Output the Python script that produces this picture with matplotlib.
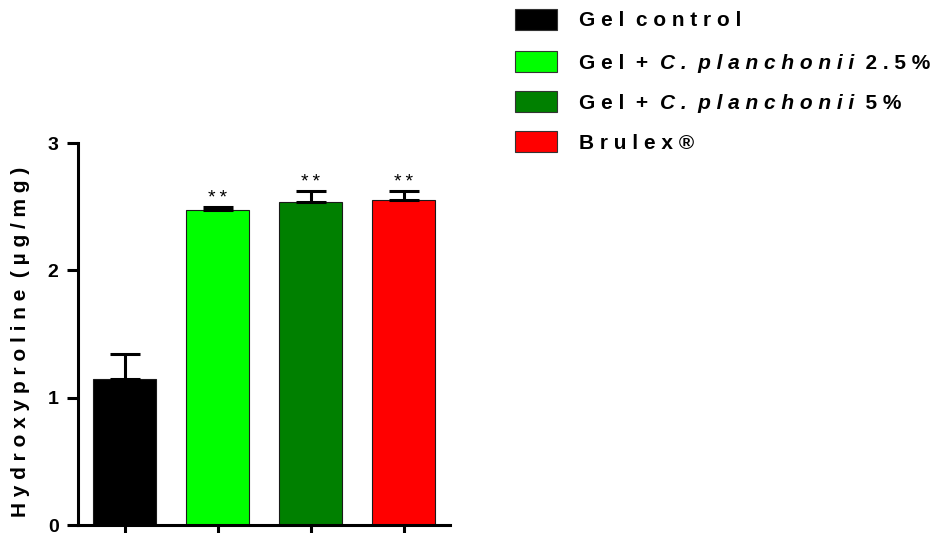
import matplotlib
matplotlib.use('Agg')
import matplotlib.pyplot as plt
from matplotlib.patches import Rectangle
import numpy as np

# ---- data ----
groups = ['Gel control', 'Gel + C. planchonii 2.5%', 'Gel + C. planchonii 5%', 'Brulex®']
means = [1.15, 2.47, 2.535, 2.555]
errors = [0.19, 0.026, 0.085, 0.07]
colors = ['#000000', '#00ff00', '#008000', '#ff0000']
signif = ['', '**', '**', '**']
yticks = [0, 1, 2, 3]
ylabel = 'Hydroxyproline (µg/mg)'
# legend label parts: (text, italic?)
legend_parts = [
    [('Gel control', False)],
    [('Gel + ', False), ('C. planchonii', True), (' 2.5%', False)],
    [('Gel + ', False), ('C. planchonii', True), (' 5%', False)],
    [('Brulex®', False)],
]

FAM = ['Liberation Sans', 'DejaVu Sans']
plt.rcParams['font.family'] = FAM


def sp(s, gap=' ', word='  '):
    words = s.split(' ')
    return word.join(gap.join(w) for w in words)


W, H = 944, 533
fig = plt.figure(figsize=(W / 100, H / 100), dpi=100)
ax = fig.add_axes([78 / W, (H - 525) / H, 372 / W, (525 - 143) / H])

x = np.arange(len(groups))
ax.bar(x, means, width=0.67, color=colors, edgecolor='#1a1a1a', linewidth=0.8, zorder=2)
ax.errorbar(x, means, yerr=[np.zeros(len(means)), errors], fmt='none', ecolor='black',
            elinewidth=2.2, capsize=11, capthick=2.2, zorder=3, clip_on=False)
for xi, m, e, s in zip(x, means, errors, signif):
    if s:
        ax.annotate(sp(s, gap='\u2009'), xy=(xi, m + e), xytext=(0, 0), textcoords='offset points',
                    ha='center', va='bottom', fontsize=14, annotation_clip=False)

ax.set_xlim(-0.5, len(groups) - 0.5)
ax.set_ylim(0, 3)
ax.set_yticks(yticks)
ax.set_yticklabels([str(t) for t in yticks], fontsize=14, fontweight='bold')
ax.set_xticks(x)
ax.set_xticklabels([''] * len(x))
ax.tick_params(axis='both', direction='out', length=8, width=2.2, pad=6)
for s in ['top', 'right']:
    ax.spines[s].set_visible(False)
for s in ['left', 'bottom']:
    ax.spines[s].set_linewidth(2.2)

ax.set_ylabel(sp(ylabel, gap=' ', word='  '), fontsize=15, fontweight='bold')
ax.yaxis.set_label_coords((30 - 78) / 372, 0.48)

# ---- legend ----
row_y = [19, 61.5, 101.5, 141.5]
for parts, col, yc in zip(legend_parts, colors, row_y):
    fig.add_artist(Rectangle((515 / W, (H - yc - 10.5) / H), 42 / W, 21 / H,
                             transform=fig.transFigure, facecolor=col,
                             edgecolor='#333333', linewidth=0.8))
    prev = None
    for txt, it in parts:
        kw = dict(fontsize=15, fontweight='bold', fontstyle='italic' if it else 'normal')
        t = sp(txt.strip())
        if txt.startswith(' '):
            t = '  ' + t
        if txt.endswith(' '):
            t = t + '  '
        if prev is None:
            prev = fig.text(579 / W, (H - yc - 2) / H, t, ha='left', va='center', **kw)
        else:
            prev = ax.annotate(t, xy=(1, 0), xycoords=prev, ha='left', va='bottom',
                               annotation_clip=False, **kw)

plt.savefig('out.png', dpi=100)
